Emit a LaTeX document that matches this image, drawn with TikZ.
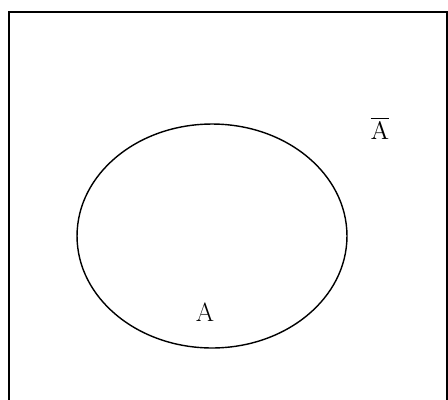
\documentclass[tikz,border=0pt]{standalone}
\usepackage{amsmath}
\usetikzlibrary{shapes}
\tikzstyle{frame}=[draw=black, line width=1.1pt]
\tikzstyle{setA}=[ellipse, draw=black, line width=0.8pt, minimum width=5.4cm, minimum height=4.48cm, inner sep=0pt]
\tikzstyle{lbl}=[font=\fontsize{15}{17}\selectfont, inner sep=0pt]

\begin{document}
\begin{tikzpicture}[x=0.02cm,y=-0.02cm]
\useasboundingbox (0,0) rectangle (448,399);
\coordinate (BL) at (9,402);\coordinate (TL) at (9,12);
\coordinate (TR) at (447,12);\coordinate (BR) at (447,402);
\draw[frame] (BL)--(TL)--(TR)--(BR);
\node[setA] (A) at (212,236) {};
\node[lbl] (a) at (205,312) {A};
\node[lbl] (abar) at (380,128) {$\overline{\mathrm{A}}$};
\end{tikzpicture}
\end{document}
